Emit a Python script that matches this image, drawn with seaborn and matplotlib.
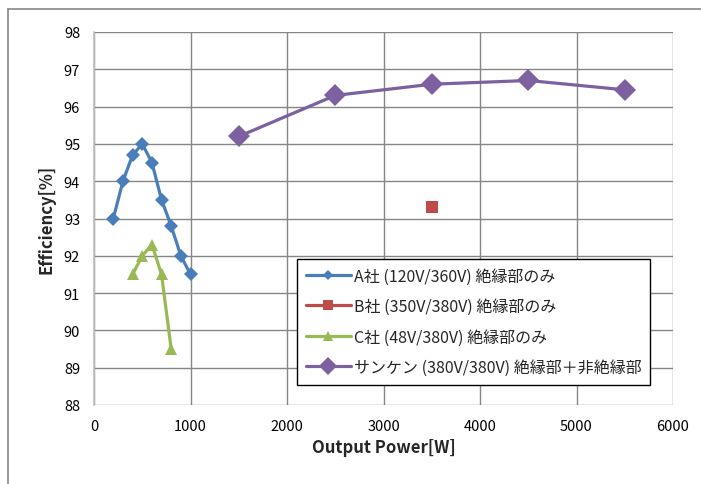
import matplotlib
matplotlib.use("Agg")
import matplotlib.pyplot as plt
import matplotlib.lines as mlines
import seaborn as sns

# data
a_power = [200, 300, 400, 500, 600, 700, 800, 900, 1000]
a_eff = [93.0, 94.0, 94.7, 95.0, 94.5, 93.5, 92.8, 92.0, 91.5]
b_power = [3500]
b_eff = [93.3]
c_power = [400, 500, 600, 700, 800]
c_eff = [91.5, 92.0, 92.3, 91.5, 89.5]
s_power = [1500, 2500, 3500, 4500, 5500]
s_eff = [95.2, 96.3, 96.6, 96.7, 96.45]

labels = ["A社 (120V/360V) 絶縁部のみ",
          "B社 (350V/380V) 絶縁部のみ",
          "C社 (48V/380V) 絶縁部のみ",
          "サンケン (380V/380V) 絶縁部＋非絶縁部"]
colors = ["#4a7ebb", "#be4b48", "#98b954", "#7d60a0"]

sns.set_style("white")
plt.rcParams['font.family'] = ['Noto Sans CJK JP', 'DejaVu Sans']

fig = plt.figure(figsize=(7.01, 4.85), dpi=100)
ax = fig.add_axes([94 / 701, 1 - 406 / 485, 579 / 701, 373 / 485])

# chart area frame (left and top edges visible)
fig.add_artist(mlines.Line2D([8 / 701, 8 / 701], [0, 1 - 10 / 485], transform=fig.transFigure,
                             color="#868686", lw=1.2))
fig.add_artist(mlines.Line2D([8 / 701, 1], [1 - 10 / 485, 1 - 10 / 485], transform=fig.transFigure,
                             color="#868686", lw=1.2))

sns.lineplot(x=a_power, y=a_eff, ax=ax, color=colors[0], marker="D", markersize=7,
             markeredgewidth=0, linewidth=2.3, label=labels[0])
sns.lineplot(x=b_power, y=b_eff, ax=ax, color=colors[1], marker="s", markersize=9,
             markeredgewidth=0, linewidth=2.3, label=labels[1])
sns.lineplot(x=c_power, y=c_eff, ax=ax, color=colors[2], marker="^", markersize=9,
             markeredgewidth=0, linewidth=2.3, label=labels[2])
sns.lineplot(x=s_power, y=s_eff, ax=ax, color=colors[3], marker="D", markersize=11,
             markeredgewidth=0, linewidth=2.3, label=labels[3])

ax.set_xlim(0, 6000)
ax.set_ylim(88, 98)
ax.set_xticks(range(0, 6001, 1000))
ax.set_yticks(range(88, 99, 1))
ax.grid(True, color="#868686", linewidth=1)
ax.set_axisbelow(True)
for side in ["top", "right", "bottom"]:
    ax.spines[side].set_visible(False)
ax.spines["left"].set_color("#c0c0c0")
ax.spines["left"].set_linewidth(1.2)
ax.tick_params(axis="both", labelsize=10.5, colors="#000000", pad=6)
ax.tick_params(axis="y", length=4, color="#868686", direction="out")
ax.tick_params(axis="x", length=4, color="#868686", direction="out")

ax.set_xlabel("Output Power[W]", fontsize=12, fontweight="bold", labelpad=4)
ax.set_ylabel("Efficiency[%]", fontsize=12, fontweight="bold", labelpad=6)

leg = ax.legend(loc="lower left", bbox_to_anchor=(0.351, 0.054), fontsize=11.5,
                frameon=True, fancybox=False, handlelength=2.8, handletextpad=0.2,
                borderpad=0.55, labelspacing=0.85, borderaxespad=0, markerscale=0.8)
leg.get_frame().set_edgecolor("black")
leg.get_frame().set_linewidth(1)
leg.get_frame().set_alpha(1)

fig.savefig("out.png", dpi=100)
